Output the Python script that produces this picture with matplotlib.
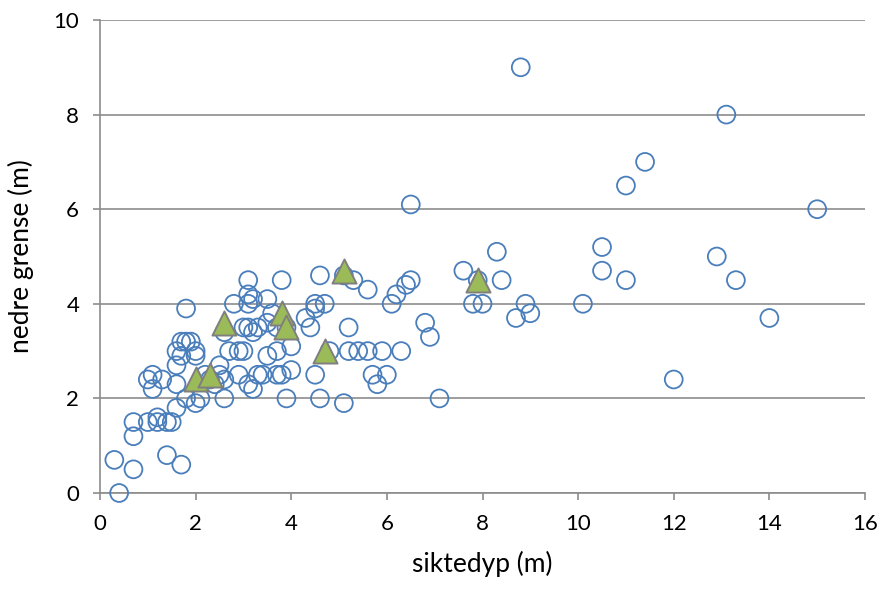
import matplotlib
matplotlib.use("Agg")
import matplotlib.pyplot as plt

# Series 1: circles (siktedyp, nedre grense)
circ_x = [0.3, 0.4, 0.7, 0.7, 0.7, 1.0, 1.0, 1.1, 1.1, 1.2, 1.2, 1.3, 1.4, 1.5, 1.4,
          1.6, 1.6, 1.6, 1.6, 1.7, 1.7, 1.7, 1.8, 1.8, 1.8, 1.9, 2.0, 2.0, 2.0, 2.1,
          2.2, 2.3, 2.4, 2.5, 2.5, 2.6, 2.6, 2.6, 2.7, 2.8, 2.9, 2.9, 3.0, 3.0, 3.1,
          3.1, 3.1, 3.1, 3.1, 3.2, 3.2, 3.2, 3.3, 3.3, 3.4, 3.5, 3.5, 3.5, 3.6, 3.7,
          3.7, 3.7, 3.8, 3.8, 3.9, 3.9, 4.0, 4.0, 4.3, 4.4, 4.5, 4.5, 4.5, 4.6, 4.6,
          4.7, 4.8, 5.1, 5.1, 5.2, 5.2, 5.3, 5.4, 5.6, 5.6, 5.7, 5.8, 5.9, 6.0, 6.1,
          6.2, 6.3, 6.4, 6.5, 6.5, 6.8, 6.9, 7.1, 7.6, 7.8, 7.9, 8.0, 8.3, 8.4, 8.7,
          8.8, 8.9, 9.0, 10.1, 10.5, 10.5, 11.0, 11.0, 11.4, 12.0, 12.9, 13.1, 13.3,
          14.0, 15.0]
circ_y = [0.7, 0.0, 0.5, 1.2, 1.5, 1.5, 2.4, 2.5, 2.2, 1.6, 1.5, 2.4, 0.8, 1.5, 1.5,
          1.8, 2.3, 2.7, 3.0, 0.6, 2.9, 3.2, 3.9, 3.2, 2.0, 3.2, 2.9, 3.0, 1.9, 2.0,
          2.5, 2.4, 2.3, 2.7, 2.5, 2.4, 2.0, 3.4, 3.0, 4.0, 3.0, 2.5, 3.5, 3.0, 4.5,
          4.2, 4.0, 3.5, 2.3, 4.1, 3.4, 2.2, 3.5, 2.5, 2.5, 4.1, 3.6, 2.9, 3.8, 3.5,
          3.0, 2.5, 4.5, 2.5, 3.5, 2.0, 3.1, 2.6, 3.7, 3.5, 4.0, 3.9, 2.5, 4.6, 2.0,
          4.0, 3.0, 4.6, 1.9, 3.5, 3.0, 4.5, 3.0, 4.3, 3.0, 2.5, 2.3, 3.0, 2.5, 4.0,
          4.2, 3.0, 4.4, 6.1, 4.5, 3.6, 3.3, 2.0, 4.7, 4.0, 4.5, 4.0, 5.1, 4.5, 3.7,
          9.0, 4.0, 3.8, 4.0, 5.2, 4.7, 6.5, 4.5, 7.0, 2.4, 5.0, 8.0, 4.5,
          3.7, 6.0]

# Series 2: triangles
tri_x = [2.0, 2.3, 2.6, 3.8, 3.9, 4.7, 5.1, 7.9]
tri_y = [2.4, 2.5, 3.6, 3.8, 3.5, 3.0, 4.7, 4.5]

x_ticks = [0, 2, 4, 6, 8, 10, 12, 14, 16]
y_ticks = [0, 2, 4, 6, 8, 10]

plt.rcParams['font.family'] = ['Lato', 'DejaVu Sans']

fig = plt.figure(figsize=(8.83, 5.9), dpi=100)
ax = fig.add_axes([100/883, 1 - 493/590, 765/883, 473/590])

ax.scatter(circ_x, circ_y, s=165, facecolors='none', edgecolors='#4a7ebb',
           linewidths=1.3, zorder=3, clip_on=False)
ax.scatter(tri_x, tri_y, s=300, marker='^', facecolors='#9bbb59',
           edgecolors='#7f7f7f', linewidths=1.4, zorder=4, clip_on=False)

ax.set_xlim(0, 16)
ax.set_ylim(0, 10)
ax.set_xticks(x_ticks)
ax.set_yticks(y_ticks)
ax.set_xticklabels([str(v) for v in x_ticks])
ax.set_yticklabels([str(v) for v in y_ticks])

ax.grid(axis='y', color='#8c8c8c', linewidth=1.2, zorder=0)
ax.set_axisbelow(True)
for side in ['top', 'right']:
    ax.spines[side].set_visible(False)
for side in ['left', 'bottom']:
    ax.spines[side].set_color('#8c8c8c')
    ax.spines[side].set_linewidth(1.2)

ax.tick_params(axis='both', colors='#8c8c8c', labelcolor='black', labelsize=16,
               length=5, width=1.2, direction='out')
ax.tick_params(axis='x', pad=10)
ax.tick_params(axis='y', pad=10)

ax.set_xlabel('siktedyp (m)', fontsize=19, labelpad=12)
ax.set_ylabel('nedre grense (m)', fontsize=19, labelpad=14)

fig.savefig('out.png', dpi=100)
